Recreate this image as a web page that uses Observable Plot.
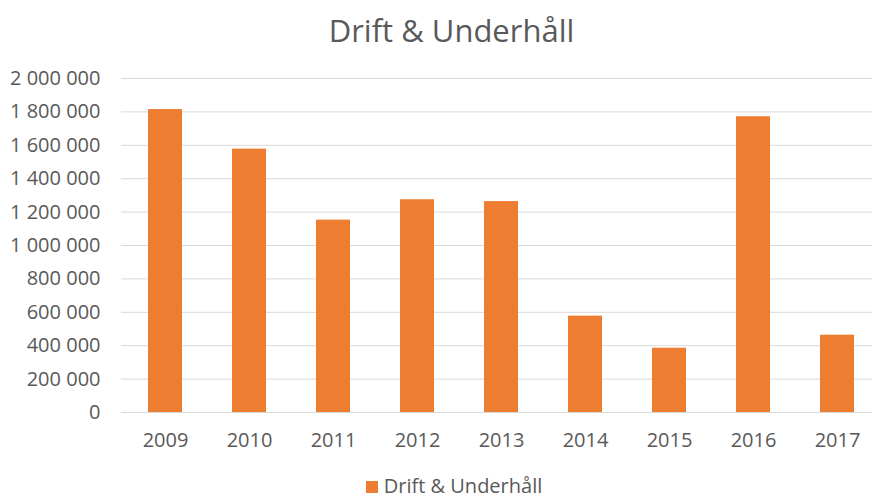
<!DOCTYPE html>
<html>
<head>
<meta charset="utf-8">
<script src="https://cdn.jsdelivr.net/npm/d3@7"></script>
<script src="https://cdn.jsdelivr.net/npm/@observablehq/plot@0.6"></script>
<style>
  html, body { margin: 0; padding: 0; background: #fff; }
  #wrap { width: 872px; height: 498px; overflow: hidden; font-family: "Open Sans", "Noto Sans", sans-serif; color: #595959; }
  #title { height: 60px; line-height: 60px; font-size: 31px; text-align: center; padding-left: 31px; box-sizing: border-box; width: 872px; }
  #legend { height: 40px; display: flex; align-items: center; justify-content: center; padding-left: 36px; box-sizing: border-box; width: 872px; font-size: 20px; padding-top: 14px; }
  #legend .sw { width: 12px; height: 12px; background: #ED7D31; display: inline-block; margin-right: 6px; margin-top: 4px; }
  svg { display: block; }
</style>
</head>
<body>
<div id="wrap">
  <div id="title">Drift &amp; Underhåll</div>
  <div id="chart"></div>
  <div id="legend"><span class="sw"></span><span>Drift &amp; Underhåll</span></div>
</div>
<script>
const years = ["2009", "2010", "2011", "2012", "2013", "2014", "2015", "2016", "2017"];
const values = [1814000, 1577000, 1152000, 1274000, 1263000, 577000, 385000, 1771000, 463000];
const yTicks = [0, 200000, 400000, 600000, 800000, 1000000, 1200000, 1400000, 1600000, 1800000, 2000000];

const data = years.map((y, i) => ({year: y, value: values[i]}));
const fmt = d => d3.format(",")(d).replace(/,/g, " ");

const chart = Plot.plot({
  width: 872,
  height: 398,
  marginTop: 18,
  marginBottom: 46,
  marginLeft: 121,
  marginRight: 0,
  style: {fontFamily: '"Open Sans", "Noto Sans", sans-serif', fontSize: "20px", color: "#595959", background: "#fff"},
  x: {domain: years, range: [121, 880.4], paddingInner: 0.6, paddingOuter: 0.3, label: null},
  y: {domain: [0, 2000000], label: null},
  marks: [
    Plot.ruleY(yTicks, {stroke: "#D9D9D9", strokeWidth: 1}),
    Plot.barY(data, {x: "year", y: "value", fill: "#ED7D31"}),
    Plot.axisY(yTicks, {tickSize: 0, tickPadding: 21, tickFormat: fmt, label: null, fill: "#595959", fontSize: 20}),
    Plot.axisX({tickSize: 0, tickPadding: 20, label: null, fill: "#595959", fontSize: 20})
  ]
});
document.getElementById("chart").appendChild(chart);
</script>
</body>
</html>
